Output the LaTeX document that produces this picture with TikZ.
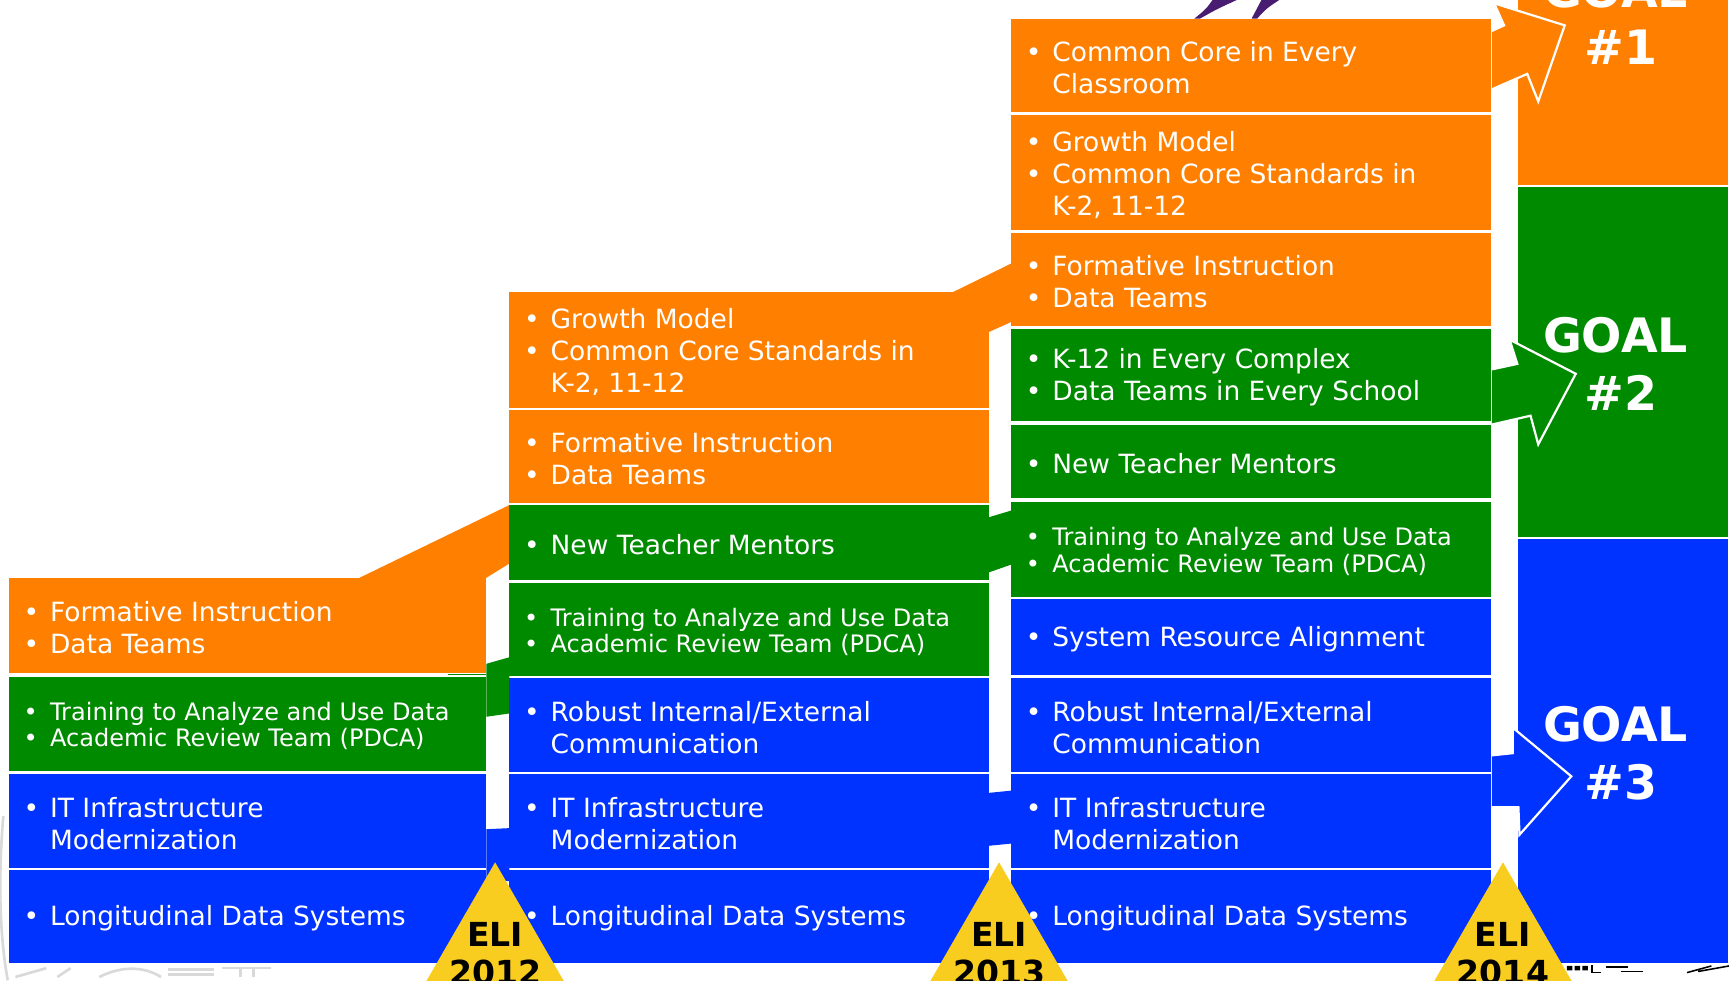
\documentclass[tikz,border=0pt]{standalone}
\usepackage{fontspec}
\setmainfont{DejaVu Sans}
\usetikzlibrary{calc}

\definecolor{eorange}{RGB}{255,127,0}
\definecolor{egreen}{RGB}{0,138,0}
\definecolor{eblue}{RGB}{0,51,255}
\definecolor{eyellow}{RGB}{248,205,32}
\definecolor{epurple}{RGB}{72,28,112}

% bullet with a fixed hanging indent, and the matching indent for wrapped lines
\newcommand\bl{\makebox[12pt][l]{\textbullet}}
\newcommand\ind{\hspace*{12pt}}

% \cell[extra style]{x1}{y1}{x2}{y2}{fill}{name}{text}
\newcommand\cell[8][]{%
  \fill[#6] (#2,#3) rectangle (#4,#5);
  \node[celltext,#1] (#7) at ({#2+13},{(#3+#5)/2+2}) {#8};}

\begin{document}
\begin{tikzpicture}[x=0.5pt,y=-0.5pt,
  celltext/.style={anchor=west, inner sep=0pt, align=left, text=white,
                   font=\fontsize{12}{14.5}\selectfont},
  smalltext/.style={font=\fontsize{10.9}{12}\selectfont},
  goaltext/.style={text=white, align=center, inner sep=0pt,
                   font=\bfseries\fontsize{21.5}{26}\selectfont},
  elitext/.style={text=black, align=center, inner sep=0pt,
                  font=\bfseries\fontsize{15}{17}\selectfont},
  goalarrow/.style={draw=white, line width=1pt, line join=miter},
  ramp/.style={draw=none},
  faint/.style={draw=black!15, line width=1.2pt},
]
\useasboundingbox (0,0) rectangle (1568,889);
\clip (0,0) rectangle (1568,889);

% purple tips entering from the top edge
\fill[epurple] (1083,17) .. controls (1094,8) .. (1101,-2) -- (1126,-2) .. controls (1104,8) .. (1088,17) -- cycle;
\fill[epurple] (1135,17) .. controls (1140,8) .. (1145,-2) -- (1163,-2) .. controls (1148,8) .. (1140,17) -- cycle;

% faint watermark strokes
\draw[faint] (3,740) .. controls (-2,800) and (0,850) .. (7,889);
\draw[faint] (14,886) -- (42,878);
\draw[faint] (52,886) -- (64,878);
\draw[faint] (90,886) .. controls (110,876) and (130,876) .. (146,886);
\draw[faint] (152,879) -- (194,879) (152,884) -- (194,884);
\draw[faint] (201,878) -- (246,878) (218,878) -- (218,886) (230,878) -- (230,886);

% ramps linking neighbouring columns
\fill[eorange,ramp] (326,524) -- (462,458) -- (462,511) -- (441,524) -- cycle;
\fill[egreen,ramp]  (441,602) -- (462,596) -- (462,647) -- (441,650) -- cycle;
\fill[eblue,ramp]   (441,752) -- (462,751) -- (462,799) -- (441,800) -- cycle;
\draw[egreen, line width=0.6pt] (406,611.8) -- (441,611.8);
\fill[eorange,ramp] (864,265) -- (917,239) -- (917,292) -- (897,301) -- cycle;
\fill[egreen,ramp]  (897,469) -- (917,463) -- (917,512) -- (897,519) -- cycle;
\fill[eblue,ramp]   (897,719) -- (917,717) -- (917,765) -- (897,767) -- cycle;

% column 1
\cell{8}{524}{441}{610}{eorange}{cAfi}{\bl Formative Instruction\\\bl Data Teams}
\cell[smalltext]{8}{614}{441}{699}{egreen}{cAtr}{\bl Training to Analyze and Use Data\\\bl Academic Review Team (PDCA)}
\cell{8}{702}{441}{787}{eblue}{cAit}{\bl IT Infrastructure\\\ind Modernization}
\cell{8}{789}{441}{873}{eblue}{cAld}{\bl Longitudinal Data Systems}

% column 2
\cell{462}{265}{897}{370}{eorange}{cBgm}{\bl Growth Model\\\bl Common Core Standards in\\\ind K-2, 11-12}
\cell{462}{372}{897}{456}{eorange}{cBfi}{\bl Formative Instruction\\\bl Data Teams}
\cell{462}{458}{897}{526}{egreen}{cBnt}{\bl New Teacher Mentors}
\cell[smalltext]{462}{529}{897}{613}{egreen}{cBtr}{\bl Training to Analyze and Use Data\\\bl Academic Review Team (PDCA)}
\cell{462}{615}{897}{700}{eblue}{cBrb}{\bl Robust Internal/External\\\ind Communication}
\cell{462}{702}{897}{787}{eblue}{cBit}{\bl IT Infrastructure\\\ind Modernization}
\cell{462}{789}{897}{873}{eblue}{cBld}{\bl Longitudinal Data Systems}

% column 3
\cell{917}{17}{1352}{102}{eorange}{cCcc}{\bl Common Core in Every\\\ind Classroom}
\cell{917}{104}{1352}{209}{eorange}{cCgm}{\bl Growth Model\\\bl Common Core Standards in\\\ind K-2, 11-12}
\cell{917}{211}{1352}{296}{eorange}{cCfi}{\bl Formative Instruction\\\bl Data Teams}
\cell{917}{298}{1352}{382}{egreen}{cCk}{\bl K-12 in Every Complex\\\bl Data Teams in Every School}
\cell{917}{385}{1352}{452}{egreen}{cCnt}{\bl New Teacher Mentors}
\cell[smalltext]{917}{455}{1352}{541}{egreen}{cCtr}{\bl Training to Analyze and Use Data\\\bl Academic Review Team (PDCA)}
\cell{917}{543}{1352}{612}{eblue}{cCsr}{\bl System Resource Alignment}
\cell{917}{615}{1352}{700}{eblue}{cCrb}{\bl Robust Internal/External\\\ind Communication}
\cell{917}{702}{1352}{787}{eblue}{cCit}{\bl IT Infrastructure\\\ind Modernization}
\cell{917}{789}{1352}{873}{eblue}{cCld}{\bl Longitudinal Data Systems}

% goal column
\fill[eorange] (1377,-5) rectangle (1567,168);
\fill[egreen]  (1377,170) rectangle (1567,487);
\fill[eblue]   (1377,489) rectangle (1567,873);

% block arrows into the goals (open on the column side)
\fill[eorange] (1353,28) -- (1364,23) -- (1355,3) -- (1419,23) -- (1395,92) -- (1385,67) -- (1353,81) -- cycle;
\draw[goalarrow] (1353,28) -- (1364,23) -- (1355,3) -- (1419,23) -- (1395,92) -- (1385,67) -- (1353,81);
\fill[egreen] (1353,335) -- (1376,330) -- (1369,308) -- (1429,339) -- (1395,403) -- (1388,377) -- (1353,385) -- cycle;
\draw[goalarrow] (1353,335) -- (1376,330) -- (1369,308) -- (1429,339) -- (1395,403) -- (1388,377) -- (1353,385);
\fill[eblue] (1353,685) -- (1372,683) -- (1372,660) -- (1425,704) -- (1378,757) -- (1377,732) -- (1353,732) -- cycle;
\draw[goalarrow] (1353,685) -- (1372,683) -- (1372,660) -- (1425,704) -- (1378,757) -- (1377,732) -- (1353,732);

\node[goaltext] (g1) at (1465,16.5) {GOAL\\\hspace*{5pt}\#1};
\node[goaltext] (g2) at (1465,330) {GOAL\\\hspace*{5pt}\#2};
\node[goaltext] (g3) at (1465,683) {GOAL\\\hspace*{5pt}\#3};

% milestone triangles
\fill[eyellow] (449,782) -- (552,960) -- (346,960) -- cycle;
\fill[eyellow] (906,782) -- (1009,960) -- (803,960) -- cycle;
\fill[eyellow] (1363,782) -- (1466,960) -- (1260,960) -- cycle;
\node[elitext] (e12) at (449,865) {ELI\\2012};
\node[elitext] (e13) at (906,865) {ELI\\2013};
\node[elitext] (e14) at (1363,865) {ELI\\2014};

% dark fragments along the bottom edge
\fill[black] (1421,876) rectangle (1426,880) (1428,876) rectangle (1433,880) (1435,876) rectangle (1440,880);
\draw[black, line width=0.8pt] (1444,875) -- (1444,882) -- (1452,882);
\draw[black, line width=0.7pt] (1456,877) -- (1476,877) (1470,881) -- (1490,881);
\draw[black, line width=0.7pt] (1530,882) -- (1552,876) (1540,881) -- (1568,876);
\end{tikzpicture}
\end{document}
